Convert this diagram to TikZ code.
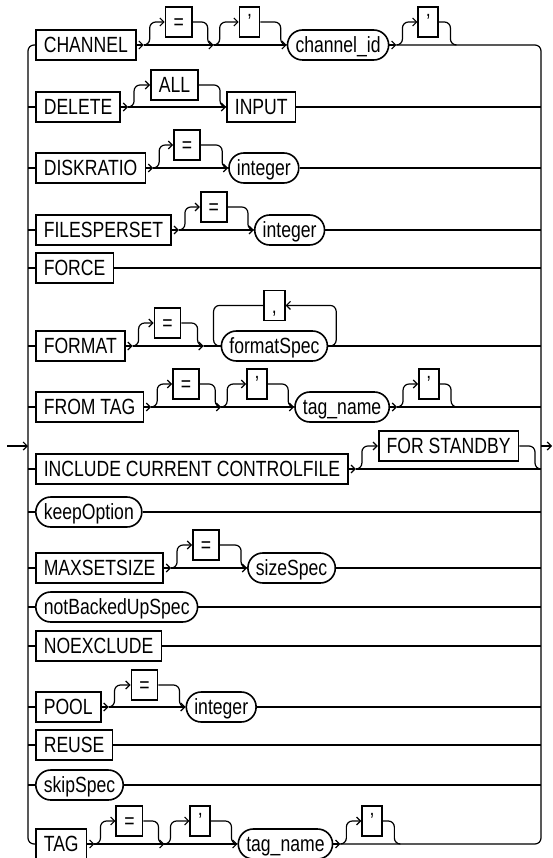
\documentclass[tikz,border=0pt]{standalone}
\usepackage{fontspec}
\setmainfont{Liberation Sans}[FakeStretch=0.8]
\usetikzlibrary{arrows.meta,positioning}

\begin{document}
\begin{tikzpicture}[
    x=1pt, y=-1pt,
    line width=1.2pt,
    rounded corners=6pt,
    box/.style={draw, sharp corners, line width=1.6pt, inner xsep=8pt, inner ysep=0pt, minimum height=30pt, text height=15.5pt, text depth=0pt, font=\fontsize{22pt}{25pt}\selectfont},
    oval/.style={box, rounded corners=15pt},
    sym/.style={box, minimum width=20pt},
    arrow/.style={-{Straight Barb[length=4pt,width=8pt]}},
    skipup/.style={to path={-- ++(6,0) |- (\tikztotarget.west)}},
    skipdown/.style={to path={-| ([xshift=-6pt]\tikztotarget) -- (\tikztotarget)}}
  ]
    \useasboundingbox (0,0) rectangle (553,858);

    \coordinate (start) at (7,446);
    \coordinate (in) at (28,446);
    \coordinate (out) at (541,446);
    \coordinate (end) at (552,446);

    % CHANNEL
    \node[box, anchor=west] (chan) at (35,45) {CHANNEL};
    \coordinate[right=7pt of chan] (chanj1);
    \node[sym, right=28pt of chan, yshift=23pt] (chaneq) {=};
    \coordinate[right=77pt of chan] (chanj2);
    \node[sym, right=102pt of chan, yshift=23pt] (chanq1) {'};
    \node[oval, right=150pt of chan] (chanid) {channel\_id};
    \coordinate[right=7pt of chanid] (chanj3);
    \node[sym, right=28pt of chanid, yshift=23pt] (chanq2) {'};
    \coordinate[right=67pt of chanid] (chanj4);

    % DELETE
    \node[box, anchor=west] (del) at (35,107) {DELETE};
    \coordinate[right=7pt of del] (delj1);
    \node[box, right=29pt of del, yshift=22pt] (delall) {ALL};
    \node[box, right=105pt of del] (delinp) {INPUT};

    % DISKRATIO
    \node[box, anchor=west] (disk) at (35,168) {DISKRATIO};
    \coordinate[right=7pt of disk] (diskj1);
    \node[sym, right=27pt of disk, yshift=23pt] (diskeq) {=};
    \node[oval, right=82pt of disk] (diskint) {integer};

    % FILESPERSET
    \node[box, anchor=west] (files) at (35,230) {FILESPERSET};
    \coordinate[right=7pt of files] (filesj1);
    \node[sym, right=28pt of files, yshift=23pt] (fileseq) {=};
    \node[oval, right=82pt of files] (filesint) {integer};

    % FORCE
    \node[box, anchor=west] (force) at (35,268) {FORCE};

    % FORMAT
    \node[box, anchor=west] (fmt) at (35,346) {FORMAT};
    \coordinate[right=7pt of fmt] (fmtj1);
    \node[sym, right=28pt of fmt, yshift=23pt] (fmteq) {=};
    \coordinate[right=78pt of fmt] (fmtj2);
    \node[oval, right=95pt of fmt] (fmtspec) {formatSpec};
    \node[sym, above=9pt of fmtspec] (fmtcomma) {,};

    % FROM TAG
    \node[box, anchor=west] (ftag) at (35,407) {FROM TAG};
    \coordinate[right=7pt of ftag] (ftagj1);
    \node[sym, right=28pt of ftag, yshift=23pt] (ftageq) {=};
    \coordinate[right=77pt of ftag] (ftagj2);
    \node[sym, right=102pt of ftag, yshift=23pt] (ftagq1) {'};
    \node[oval, right=150pt of ftag] (ftagname) {tag\_name};
    \coordinate[right=7pt of ftagname] (ftagj3);
    \node[sym, right=28pt of ftagname, yshift=23pt] (ftagq2) {'};
    \coordinate[right=67pt of ftagname] (ftagj4);

    % INCLUDE CURRENT CONTROLFILE
    \node[box, anchor=west] (inc) at (35,469) {INCLUDE CURRENT CONTROLFILE};
    \coordinate[right=7pt of inc] (incj1);
    \node[box, right=29pt of inc, yshift=23pt] (incsby) {FOR STANDBY};
    \coordinate (incj2) at (inc -| out);

    % keepOption
    \node[oval, anchor=west] (keep) at (35,512) {keepOption};

    % MAXSETSIZE
    \node[box, anchor=west] (maxs) at (35,568) {MAXSETSIZE};
    \coordinate[right=7pt of maxs] (maxsj1);
    \node[sym, right=28pt of maxs, yshift=23pt] (maxseq) {=};
    \node[oval, right=83pt of maxs] (maxsize) {sizeSpec};

    % notBackedUpSpec, NOEXCLUDE
    \node[oval, anchor=west] (nbu) at (35,607) {notBackedUpSpec};
    \node[box, anchor=west] (noex) at (35,646) {NOEXCLUDE};

    % POOL
    \node[box, anchor=west] (pool) at (35,707) {POOL};
    \coordinate[right=7pt of pool] (poolj1);
    \node[sym, right=29pt of pool, yshift=22pt] (pooleq) {=};
    \node[oval, right=84pt of pool] (poolint) {integer};

    % REUSE, skipSpec
    \node[box, anchor=west] (reuse) at (35,745) {REUSE};
    \node[oval, anchor=west] (skip) at (35,785) {skipSpec};

    % TAG
    \node[box, anchor=west] (tag) at (35,844) {TAG};
    \coordinate[right=7pt of tag] (tagj1);
    \node[sym, right=28pt of tag, yshift=23pt] (tageq) {=};
    \coordinate[right=77pt of tag] (tagj2);
    \node[sym, right=102pt of tag, yshift=23pt] (tagq1) {'};
    \node[oval, right=150pt of tag] (tagname) {tag\_name};
    \coordinate[right=7pt of tagname] (tagj3);
    \node[sym, right=28pt of tagname, yshift=23pt] (tagq2) {'};
    \coordinate[right=67pt of tagname] (tagj4);

    % rails
    \draw[arrow] (start) -- (in);
    \draw (chan.west) -| (in) |- (tag.west);
    \draw (chanj3) -| (out) |- (tagj3);
    \draw[arrow] (out) -- (end);

    \draw[arrow] (chan) -- (chanj1);
    \draw[arrow] (chanj1) -- (chanj2);
    \draw[arrow] (chanj1) to[skipup] (chaneq);
    \draw (chaneq.east) to[skipdown] (chanj2);
    \draw[arrow] (chanj2) -- (chanid);
    \draw[arrow] (chanj2) to[skipup] (chanq1);
    \draw (chanq1.east) to[skipdown] (chanid.west);
    \draw[arrow] (chanid) -- (chanj3);
    \draw[arrow] (chanj3) to[skipup] (chanq2);
    \draw (chanq2.east) to[skipdown] (chanj4);

    \draw (del) -- (del -| in);
    \draw[arrow] (del) -- (delj1);
    \draw[arrow] (delj1) -- (delinp);
    \draw[arrow] (delj1) to[skipup] (delall);
    \draw (delall.east) to[skipdown] (delinp.west);
    \draw (delinp) -- (delinp -| out);

    \draw (disk) -- (disk -| in);
    \draw[arrow] (disk) -- (diskj1);
    \draw[arrow] (diskj1) -- (diskint);
    \draw[arrow] (diskj1) to[skipup] (diskeq);
    \draw (diskeq.east) to[skipdown] (diskint.west);
    \draw (diskint) -- (diskint -| out);

    \draw (files) -- (files -| in);
    \draw[arrow] (files) -- (filesj1);
    \draw[arrow] (filesj1) -- (filesint);
    \draw[arrow] (filesj1) to[skipup] (fileseq);
    \draw (fileseq.east) to[skipdown] (filesint.west);
    \draw (filesint) -- (filesint -| out);

    \draw (force) -- (force -| in);
    \draw (force) -- (force -| out);

    \draw (fmt) -- (fmt -| in);
    \draw[arrow] (fmt) -- (fmtj1);
    \draw[arrow] (fmtj1) -- (fmtj2);
    \draw[arrow] (fmtj1) to[skipup] (fmteq);
    \draw (fmteq.east) to[skipdown] (fmtj2);
    \draw (fmtj2) -- (fmtspec);
    \draw[arrow] (fmtspec.east) -- ++(8,0) |- (fmtcomma.east);
    \draw (fmtcomma.west) -| ([xshift=-7pt]fmtspec.west) -- (fmtspec.west);
    \draw (fmtspec) -- (fmtspec -| out);

    \draw (ftag) -- (ftag -| in);
    \draw[arrow] (ftag) -- (ftagj1);
    \draw[arrow] (ftagj1) -- (ftagj2);
    \draw[arrow] (ftagj1) to[skipup] (ftageq);
    \draw (ftageq.east) to[skipdown] (ftagj2);
    \draw[arrow] (ftagj2) -- (ftagname);
    \draw[arrow] (ftagj2) to[skipup] (ftagq1);
    \draw (ftagq1.east) to[skipdown] (ftagname.west);
    \draw[arrow] (ftagname) -- (ftagj3);
    \draw[arrow] (ftagj3) to[skipup] (ftagq2);
    \draw (ftagq2.east) to[skipdown] (ftagj4);
    \draw (ftagj3) -- (ftagj3 -| out);

    \draw (inc) -- (inc -| in);
    \draw[arrow] (inc) -- (incj1);
    \draw (incj1) -- (incj2);
    \draw[arrow] (incj1) to[skipup] (incsby);
    \draw (incsby.east) to[skipdown] (incj2);

    \draw (keep) -- (keep -| in);
    \draw (keep) -- (keep -| out);

    \draw (maxs) -- (maxs -| in);
    \draw[arrow] (maxs) -- (maxsj1);
    \draw[arrow] (maxsj1) -- (maxsize);
    \draw[arrow] (maxsj1) to[skipup] (maxseq);
    \draw (maxseq.east) to[skipdown] (maxsize.west);
    \draw (maxsize) -- (maxsize -| out);

    \draw (nbu) -- (nbu -| in);
    \draw (nbu) -- (nbu -| out);
    \draw (noex) -- (noex -| in);
    \draw (noex) -- (noex -| out);

    \draw (pool) -- (pool -| in);
    \draw[arrow] (pool) -- (poolj1);
    \draw[arrow] (poolj1) -- (poolint);
    \draw[arrow] (poolj1) to[skipup] (pooleq);
    \draw (pooleq.east) to[skipdown] (poolint.west);
    \draw (poolint) -- (poolint -| out);

    \draw (reuse) -- (reuse -| in);
    \draw (reuse) -- (reuse -| out);
    \draw (skip) -- (skip -| in);
    \draw (skip) -- (skip -| out);

    \draw[arrow] (tag) -- (tagj1);
    \draw[arrow] (tagj1) -- (tagj2);
    \draw[arrow] (tagj1) to[skipup] (tageq);
    \draw (tageq.east) to[skipdown] (tagj2);
    \draw[arrow] (tagj2) -- (tagname);
    \draw[arrow] (tagj2) to[skipup] (tagq1);
    \draw (tagq1.east) to[skipdown] (tagname.west);
    \draw[arrow] (tagname) -- (tagj3);
    \draw[arrow] (tagj3) to[skipup] (tagq2);
    \draw (tagq2.east) to[skipdown] (tagj4);
  \end{tikzpicture}
\end{document}
